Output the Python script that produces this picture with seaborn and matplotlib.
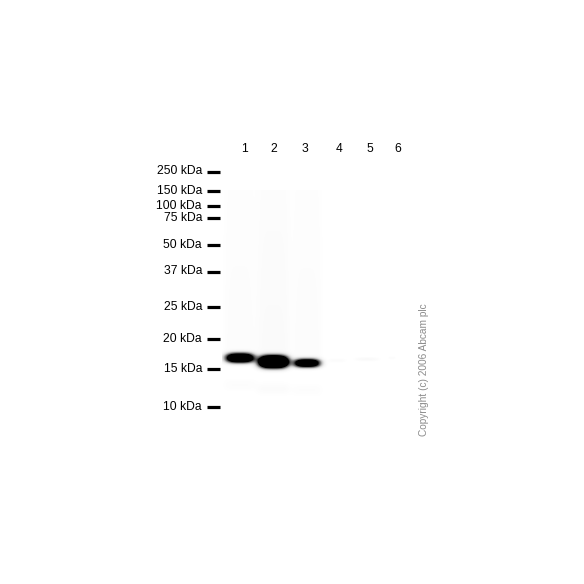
import numpy as np
import pandas as pd
import seaborn as sns
import matplotlib
matplotlib.use("Agg")
import matplotlib.pyplot as plt

marker_kda = [250, 150, 100, 75, 50, 37, 25, 20, 15, 10]
marker_labels = [f"{k} kDa" for k in marker_kda]
marker_y = [171.5, 190.5, 206, 218, 245, 271.5, 307, 338.5, 368.5, 407]

lane_labels = ["1", "2", "3", "4", "5", "6"]
lane_x = [244, 274, 305, 339, 370, 398]

# band per lane: apparent size (kDa) and signal strength
band_kda = [16.6, 16.0, 15.8, 16.2, 16.4, 16.6]
band_signal = [1.8, 2.6, 1.6, 0.035, 0.05, 0.03]
smear_signal = [0.03, 0.045, 0.03, 0.0, 0.0, 0.0]

band_center_x = [240, 273.5, 307, 337, 367, 392]
band_width = [29, 30, 27, 18, 24, 8]
band_height = [10, 12.5, 9, 4, 4, 3]


def kda_to_y(kda):
    lk = np.log(marker_kda)[::-1]
    yy = np.array(marker_y)[::-1]
    return np.interp(np.log(kda), lk, yy)


sns.set_theme(style="white")
plt.rcParams["font.family"] = ["Liberation Sans", "DejaVu Sans"]

fig = plt.figure(figsize=(5.84, 5.84), dpi=100)
fig.patch.set_facecolor("white")

# blot image region in pixel coords
x0, x1, y0, y1 = 222, 416, 160, 425
xs = np.arange(x0, x1) + 0.5
ys = np.arange(y0, y1) + 0.5
X, Y = np.meshgrid(xs, ys)
img = np.zeros_like(X)
for i in range(len(lane_labels)):
    cy = kda_to_y(band_kda[i])
    hw = band_width[i] / 2
    hh = band_height[i] / 2
    d = (np.abs(X - band_center_x[i]) / hw) ** 3 + (np.abs(Y - cy) / hh) ** 2.2
    img += band_signal[i] * np.exp(-d ** 1.2)
    # faint smear above and below the band
    sm = smear_signal[i]
    if sm > 0:
        col = np.exp(-(np.abs(X - band_center_x[i]) / (hw + 2)) ** 6)
        rows = ((Y > 190) & (Y < cy - 5)).astype(float) * (0.6 + 0.4 * (Y - 190) / (cy - 190))
        rows += 0.8 * np.exp(-((Y - (cy + 27)) / 6) ** 2)
        img += sm * col * rows
img = np.clip(img, 0, 1)
df = pd.DataFrame(img)

ax_blot = fig.add_axes([x0 / 584, 1 - y1 / 584, (x1 - x0) / 584, (y1 - y0) / 584])
sns.heatmap(df, ax=ax_blot, cmap="Greys", vmin=0, vmax=1, cbar=False,
            xticklabels=False, yticklabels=False, rasterized=True)
ax_blot.set_axis_off()

# overlay axes in pixel coordinates for labels
ax = fig.add_axes([0, 0, 1, 1])
ax.set_xlim(0, 584)
ax.set_ylim(584, 0)
ax.set_axis_off()
ax.patch.set_alpha(0)

ax.hlines(marker_y, 207, 220, color="black", linewidth=2.3)
for lab, y in zip(marker_labels, marker_y):
    ax.text(202, y, lab, ha="right", va="center", fontsize=8.7, color="black")

for lab, x in zip(lane_labels, lane_x):
    ax.text(x, 148.5, lab, ha="center", va="center", fontsize=8.7, color="black")

ax.text(424, 370, "Copyright (c) 2006 Abcam plc", rotation=90, ha="center", va="center",
        fontsize=7.3, color="#8c8c8c")

fig.savefig("out.png", dpi=100, facecolor="white")
